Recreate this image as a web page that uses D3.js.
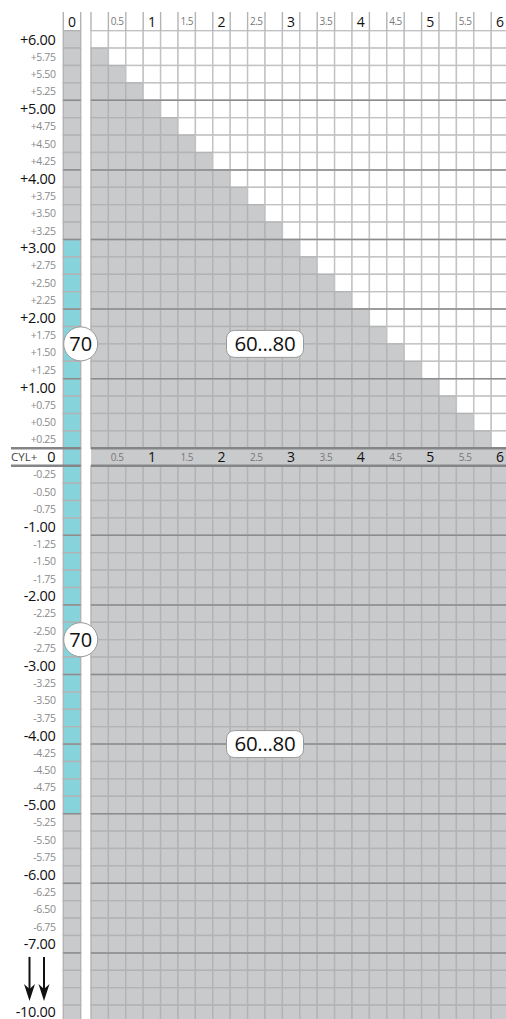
<!DOCTYPE html>
<html>
<head>
<meta charset="utf-8">
<script src="https://cdn.jsdelivr.net/npm/d3@7"></script>
<style>
body{margin:0;background:#fff}
svg{display:block}
</style>
</head>
<body>
<div id="chart"></div>
<script>
// cylinder columns (step 0.25) and the ones that get a header label
const cylSteps = ["0.25","0.5","0.75","1","1.25","1.5","1.75","2","2.25","2.5","2.75","3",
  "3.25","3.5","3.75","4","4.25","4.5","4.75","5","5.25","5.5","5.75","6"];
const cylLabels = ["0.5","1","1.5","2","2.5","3","3.5","4","4.5","5","5.5","6"];
const cylMajor = ["1","2","3","4","5","6"];

// sphere rows
const topSph = ["+6.00","+5.75","+5.50","+5.25","+5.00","+4.75","+4.50","+4.25","+4.00","+3.75","+3.50","+3.25",
  "+3.00","+2.75","+2.50","+2.25","+2.00","+1.75","+1.50","+1.25","+1.00","+0.75","+0.50","+0.25"];
const bottomSph = ["-0.25","-0.50","-0.75","-1.00","-1.25","-1.50","-1.75","-2.00","-2.25","-2.50","-2.75","-3.00",
  "-3.25","-3.50","-3.75","-4.00","-4.25","-4.50","-4.75","-5.00","-5.25","-5.50","-5.75","-6.00",
  "-6.25","-6.50","-6.75","-7.00","skip1","skip2","skip3","-10.00"];
const majorSph = ["+5.00","+4.00","+3.00","+2.00","+1.00","-1.00","-2.00","-3.00","-4.00","-5.00","-6.00","-7.00","-10.00"];

// how many cyl cells are available in each top row
const topAvail = [0,1,2,3,4,5,6,7,8,9,10,11,12,13,14,15,16,17,18,19,20,21,22,23];

// cyan range in the "0" column
const cyanFrom = "+3.00", cyanTo = "-5.00";

// badges: centred on the boundary under a row
const circleBadges = [{text:"70", after:"+1.75"},{text:"70", after:"-2.50"}];
const rangeBadges = [{text:"60...80", after:"+1.75", col:"2.5"},{text:"60...80", after:"-4.00", col:"2.5"}];

const W = 506, H = 1019;
const svg = d3.select("#chart").append("svg").attr("width",W).attr("height",H);

const rows = [...topSph, "0", ...bottomSph];
const step = 17.4, gridTop = 30.7;
const y = d3.scaleBand().domain(rows).range([gridTop, gridTop + rows.length*step]);
const x = d3.scaleBand().domain(cylSteps).range([91, 91 + cylSteps.length*step]);
const bw = y.bandwidth();
const leftX = 63.3;

const grey = "#c9cacc", cyan = "#87d3db", line = "#b2b3b5", dark = "#8c8c8e";
const font = "'Open Sans', sans-serif";

// left "0" column cells
const iFrom = rows.indexOf(cyanFrom), iTo = rows.indexOf(cyanTo);
svg.append("g").selectAll("rect").data(rows).join("rect")
  .attr("x", leftX).attr("y", d => y(d)).attr("width", bw).attr("height", bw)
  .attr("fill", (d,i) => i >= iFrom && i <= iTo ? cyan : grey)
  .attr("stroke", line).attr("stroke-width", 1.4);

// main grid cells
const cells = [];
rows.forEach(r => {
  if (r === "0") return;
  cylSteps.forEach((c,j) => {
    const t = topSph.indexOf(r);
    cells.push({r, c, fill: t >= 0 && j >= topAvail[t] ? "#fff" : grey});
  });
});
svg.append("g").selectAll("rect").data(cells).join("rect")
  .attr("x", d => x(d.c)).attr("y", d => y(d.r)).attr("width", bw).attr("height", bw)
  .attr("fill", d => d.fill)
  .attr("stroke", d => d.fill === "#fff" ? "#c2c2c4" : line).attr("stroke-width", 1.4);

// middle CYL row band
svg.append("rect").attr("x", x.range()[0]).attr("y", y("0"))
  .attr("width", x.range()[1]-x.range()[0]).attr("height", bw).attr("fill", grey);

// major lines every 1.00 (far side from zero)
const majG = svg.append("g").attr("stroke", dark).attr("stroke-width", 1.5);
majorSph.forEach(r => {
  const yy = r.startsWith("+") ? y(r) : y(r) + bw;
  majG.append("line").attr("x1", leftX).attr("x2", leftX+bw).attr("y1", yy).attr("y2", yy);
  majG.append("line").attr("x1", x.range()[0]).attr("x2", W).attr("y1", yy).attr("y2", yy);
});

// thick lines around CYL row
[y("0"), y("0")+bw].forEach(yy => {
  svg.append("line").attr("x1", 11).attr("x2", leftX+bw).attr("y1", yy).attr("y2", yy)
    .attr("stroke", "#858587").attr("stroke-width", 2.4);
  svg.append("line").attr("x1", x.range()[0]).attr("x2", W).attr("y1", yy).attr("y2", yy)
    .attr("stroke", "#858587").attr("stroke-width", 2.4);
});

// header separators
const hdr = svg.append("g").attr("stroke", line).attr("stroke-width", 1.4);
[leftX, leftX+bw].forEach(xx => hdr.append("line").attr("x1",xx).attr("x2",xx).attr("y1",12).attr("y2",gridTop));
cylSteps.forEach(c => hdr.append("line").attr("x1",x(c)).attr("x2",x(c)).attr("y1",12).attr("y2",gridTop));
hdr.append("line").attr("x1",x.range()[1]).attr("x2",x.range()[1]).attr("y1",12).attr("y2",gridTop);

// column labels (top header and middle row)
[gridTop - bw/2 - 0.5, y("0") + bw/2].forEach(cy => {
  svg.append("g").selectAll("text").data(cylLabels).join("text")
    .attr("x", d => x(d) + bw/2).attr("y", cy).attr("dy", "0.36em")
    .attr("text-anchor", "middle").attr("font-family", font)
    .attr("font-size", d => cylMajor.includes(d) ? 14 : 10)
    .attr("font-weight", d => cylMajor.includes(d) ? 500 : 400)
    .attr("letter-spacing", d => cylMajor.includes(d) ? 0 : -0.5)
    .attr("fill", d => cylMajor.includes(d) ? "#111" : "#777")
    .text(d => d);
});
svg.append("text").attr("x", leftX + bw/2).attr("y", gridTop - bw/2 - 0.5).attr("dy","0.36em")
  .attr("text-anchor","middle").attr("font-family",font).attr("font-size",14).attr("font-weight",500)
  .attr("fill","#111").text("0");

// row labels
const rowLabels = rows.filter(r => r.startsWith("+") || r.startsWith("-"));
const isMajor = d => majorSph.includes(d) || d === "+6.00";
svg.append("g").selectAll("text").data(rowLabels).join("text")
  .attr("x", 55.5).attr("y", d => y(d) + bw/2 - (d === "-10.00" ? 2 : 0)).attr("dy", "0.36em")
  .attr("text-anchor", "end").attr("font-family", font)
  .attr("font-size", d => isMajor(d) ? 14.5 : 10.5)
  .attr("font-weight", d => isMajor(d) ? 500 : 400)
  .attr("letter-spacing", d => isMajor(d) ? -0.3 : -0.4)
  .attr("fill", d => isMajor(d) ? "#111" : "#8a8a8a")
  .text(d => d);
svg.append("text").attr("x", 11).attr("y", y("0") + bw/2).attr("dy","0.36em")
  .attr("font-family", font).attr("font-size", 11.5).attr("fill", "#444").text("CYL+");
svg.append("text").attr("x", 55.5).attr("y", y("0") + bw/2).attr("dy","0.36em")
  .attr("text-anchor","end").attr("font-family", font).attr("font-size", 14.5).attr("font-weight",500)
  .attr("fill", "#111").text("0");

// arrows down through the skipped rows
[29.5, 44].forEach(ax => {
  const y0 = y("skip1") + 4, tip = y("-10.00") - 4;
  svg.append("line").attr("x1", ax).attr("x2", ax).attr("y1", y0).attr("y2", tip - 8)
    .attr("stroke", "#111").attr("stroke-width", 2);
  svg.append("path")
    .attr("d", `M${ax},${tip} L${ax-5.5},${tip-17} L${ax},${tip-12} L${ax+5.5},${tip-17} Z`)
    .attr("fill", "#111");
});

// circle badges
circleBadges.forEach(b => {
  const cy = y(b.after) + bw, cx = leftX + bw;
  svg.append("circle").attr("cx", cx).attr("cy", cy).attr("r", 17)
    .attr("fill", "#fff").attr("stroke", "#999").attr("stroke-width", 1);
  svg.append("text").attr("x", cx).attr("y", cy).attr("dy", "0.36em").attr("text-anchor", "middle")
    .attr("font-family", font).attr("font-size", 20).attr("fill", "#111").text(b.text);
});

// range badges
rangeBadges.forEach(b => {
  const cy = y(b.after) + bw, cx = x(b.col) + bw;
  svg.append("rect").attr("x", cx - 38.5).attr("y", cy - 13.5).attr("width", 77).attr("height", 27)
    .attr("rx", 8).attr("fill", "#fff").attr("stroke", "#999").attr("stroke-width", 1);
  svg.append("text").attr("x", cx).attr("y", cy).attr("dy", "0.36em").attr("text-anchor", "middle")
    .attr("font-family", font).attr("font-size", 20.5).attr("letter-spacing", -0.3)
    .attr("fill", "#111").text(b.text);
});
</script>
</body>
</html>
